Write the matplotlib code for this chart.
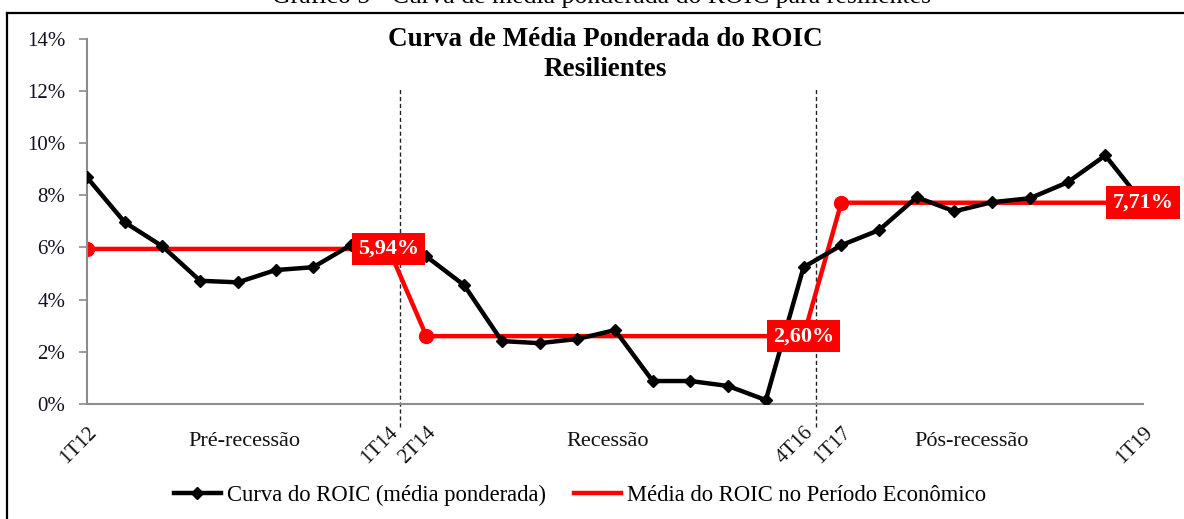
import matplotlib
matplotlib.use("Agg")
import matplotlib.pyplot as plt
from matplotlib.lines import Line2D
import numpy as np

# ---- data ----
quarters = ["1T12", "2T12", "3T12", "4T12", "1T13", "2T13", "3T13", "4T13", "1T14",
            "2T14", "3T14", "4T14", "1T15", "2T15", "3T15", "4T15", "1T16", "2T16", "3T16", "4T16",
            "1T17", "2T17", "3T17", "4T17", "1T18", "2T18", "3T18", "4T18", "1T19"]
roic = [8.68, 6.96, 6.04, 4.72, 4.66, 5.13, 5.24, 6.09, 5.95,
        5.65, 4.55, 2.41, 2.33, 2.49, 2.83, 0.88, 0.88, 0.69, 0.15, 5.24,
        6.08, 6.66, 7.92, 7.38, 7.73, 7.88, 8.49, 9.52, 7.70]
period_means = [5.94, 2.60, 7.71]
period_lengths = [9, 11, 9]
period_names = ["Pré-recessão", "Recessão", "Pós-recessão"]
shown_ticks = ["1T12", "1T14", "2T14", "4T16", "1T17", "1T19"]
mean_labels = ["5,94%", "2,60%", "7,71%"]
yticks = [0, 2, 4, 6, 8, 10, 12, 14]
title = "Curva de Média Ponderada do ROIC\nResilientes"
caption = "Gráfico 5 - Curva de média ponderada do ROIC para resilientes"
legend_labels = ["Curva do ROIC (média ponderada)", "Média do ROIC no Período Econômico"]

plt.rcParams['font.family'] = ['Liberation Serif', 'DejaVu Serif']

W, H = 1184, 519
fig = plt.figure(figsize=(W / 100, H / 100), dpi=100)
ax = fig.add_axes([87 / W, 1 - 404 / H, (1143 - 87) / W, (404 - 38.5) / H])

x = np.arange(len(quarters))
mean_series = np.repeat(period_means, period_lengths)
starts = np.cumsum([0] + period_lengths[:-1])
ends = np.cumsum(period_lengths) - 1

# red mean line
ax.plot(x, mean_series, color="#FF0000", lw=3.2, zorder=2, solid_joinstyle="miter")
ax.plot(x[starts], mean_series[starts], "o", color="#FF0000", ms=10, zorder=2)
# black ROIC curve
ax.plot(x, roic, color="black", lw=3.2, marker="D", ms=6.5, zorder=3)

# separators
for xs in [8.31, 19.34]:
    ax.plot([xs, xs], [-0.88, 12.1], color="#222222", lw=1, ls=(0, (3, 2)),
            clip_on=False, zorder=1)

# labels of means
for e, m, lab in zip(ends, period_means, mean_labels):
    ax.text(x[e], m, lab, color="white", fontsize=16, fontweight="bold",
            ha="center", va="center", zorder=5,
            bbox=dict(boxstyle="square,pad=0.28", fc="#FF0000", ec="none"))

ax.set_xlim(0, 28)
ax.set_ylim(0, 14)
ax.set_yticks(yticks)
ax.set_yticklabels([f"{v}%" for v in yticks], fontsize=15, color="#111122")
ax.tick_params(axis="y", length=5.5, width=1.2, color="#8c8c8c", pad=10)

tick_pos = [quarters.index(q) for q in shown_ticks]
ax.set_xticks(tick_pos)
ax.set_xticklabels(shown_ticks, rotation=45, ha="right", va="top",
                   rotation_mode="anchor", fontsize=15, color="#111111")
ax.tick_params(axis="x", length=0, pad=14)

for s in ["top", "right"]:
    ax.spines[s].set_visible(False)
for s in ["left", "bottom"]:
    ax.spines[s].set_color("#8c8c8c")
    ax.spines[s].set_linewidth(1.5)

# period names
centers = [4.16, 13.8, 23.46]
for c, name in zip(centers, period_names):
    ax.text(c, -1.45, name, ha="center", va="center", fontsize=16,
            color="#111111", transform=ax.transData)

# title
fig.text(605 / W, 1 - 40 / H, title.split("\n")[0], ha="center", va="center",
         fontsize=19.5, fontweight="bold")
fig.text(605 / W, 1 - 70 / H, title.split("\n")[1], ha="center", va="center",
         fontsize=19.5, fontweight="bold")

# caption (partially cut at top)
fig.text(601 / W, 1 - 3 / H, caption, ha="center", va="baseline", fontsize=18.5)

# frame
fig.add_artist(Line2D([7 / W, 1.0], [1 - 12.5 / H, 1 - 12.5 / H], color="black", lw=1.6,
                      transform=fig.transFigure))
fig.add_artist(Line2D([7 / W, 7 / W], [0, 1 - 12.5 / H], color="black", lw=1.6,
                      transform=fig.transFigure))

# legend
handles = [Line2D([], [], color="black", lw=3.2, marker="D", ms=6.5),
           Line2D([], [], color="#FF0000", lw=3.2)]
fig.legend(handles, legend_labels, loc="center", bbox_to_anchor=(580 / W, 1 - 495 / H),
           ncol=2, frameon=False, fontsize=16.3, handlelength=2.1, handletextpad=0.27,
           columnspacing=1.2)

fig.savefig("out.png", dpi=100)
